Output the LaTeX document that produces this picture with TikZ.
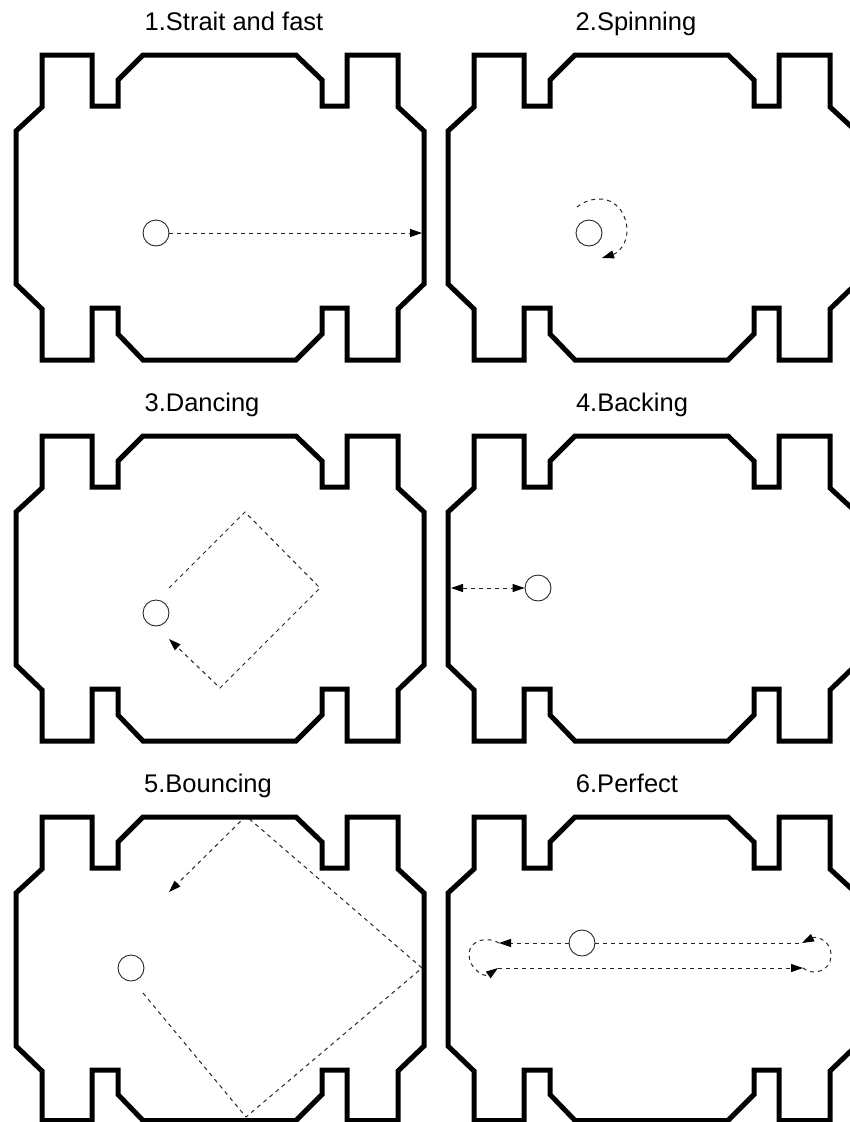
\documentclass[tikz,border=0pt]{standalone}
\usepackage{fontspec}
\setmainfont{Liberation Sans}
\usetikzlibrary{arrows.meta}
\tikzset{
  x=1pt,y=-1pt,
  wall/.style={line width=5pt,miter limit=10,line join=miter},
  ball/.style={circle,draw=black!85,line width=0.9pt,minimum size=26pt,inner sep=0pt,fill=none},
  track/.style={line width=1pt,black!85,dash pattern=on 4pt off 4pt},
  tip/.style={-{Triangle[length=12pt,width=8pt,black]}},
  title/.style={font=\fontsize{25.5pt}{28pt}\selectfont,anchor=base,inner sep=0pt},
  arena/.pic={
    \draw[wall] (16,131) -- (42,107) -- (42,55) -- (92,55) -- (92,106) -- (118,106) -- (118,80) -- (143,55)
      -- (296,55) -- (322,80) -- (322,106) -- (347,106) -- (347,55) -- (398,55) -- (398,107) -- (424,131)
      -- (424,284) -- (398,309) -- (398,\bot) -- (347,\bot) -- (347,308) -- (322,308) -- (322,\low) -- (296,\bot)
      -- (143,\bot) -- (118,\low) -- (118,308) -- (92,308) -- (92,\bot) -- (42,\bot) -- (42,309) -- (16,284) -- cycle;
  }
}
\begin{document}
\begin{tikzpicture}
\useasboundingbox (0,0) rectangle (850,1122);
\clip (0,0) rectangle (850,1122);
% titles
\node[title] (t1) at (234,30) {1.Strait and fast};
\node[title] (t2) at (636,30) {2.Spinning};
\node[title] (t3) at (202,411) {3.Dancing};
\node[title] (t4) at (632,411) {4.Backing};
\node[title] (t5) at (208,792) {5.Bouncing};
\node[title] (t6) at (627,792) {6.Perfect};
% balls
\node[ball] (b1) at (156,233) {};
\node[ball] (b2) at (589,233) {};
\node[ball] (b3) at (156,613) {};
\node[ball] (b4) at (538,588) {};
\node[ball] (b5) at (131,968) {};
\node[ball] (b6) at (582,943) {};
% panel 1
\coordinate (p1end) at (422,233);
\draw[track,tip] (b1.east) -- (p1end);
% panel 2
\coordinate (p2s) at (577,207);
\coordinate (p2t) at (600,199);
\coordinate (p2r) at (627,231);
\coordinate (p2e) at (602,258);
\draw[track,tip] (p2s) .. controls (585,201) and (592,199) .. (p2t) .. controls (616,199) and (627,214) .. (p2r) .. controls (627,244) and (618,253) .. (p2e);
% panel 3
\coordinate (p3a) at (169,588);
\coordinate (p3b) at (245,512);
\coordinate (p3c) at (320,588);
\coordinate (p3d) at (220,688);
\coordinate (p3e) at (169,639);
\draw[track,tip] (p3a) -- (p3b) -- (p3c) -- (p3d) -- (p3e);
% panel 4
\coordinate (p4w) at (451,588);
\draw[track,{Triangle[length=12pt,width=8pt,black]}-{Triangle[length=12pt,width=8pt,black]}] (p4w) -- (b4.west);
% panel 5
\coordinate (p5a) at (143,993);
\coordinate (p5b) at (246,1117);
\coordinate (p5c) at (422,968);
\coordinate (p5d) at (246,816);
\coordinate (p5e) at (169,892);
\draw[track,tip] (p5a) -- (p5b) -- (p5c) -- (p5d) -- (p5e);
% panel 6
\coordinate (p6tl) at (499,943);
\coordinate (p6tr) at (802,943);
\coordinate (p6bl) at (498,968);
\coordinate (p6br) at (803,968);
\coordinate (p6l) at (469,955);
\coordinate (p6r) at (831,955);
\draw[track,tip] (b6.west) -- (p6tl);
\draw[track] (b6.east) -- (p6tr);
\draw[track,tip] (p6bl) -- (p6br);
\draw[track,tip] (p6tl) .. controls (490,937) and (469,938) .. (p6l) .. controls (469,968) and (484,978) .. (p6bl);
\draw[track,tip] (p6br) .. controls (812,976) and (831,972) .. (p6r) .. controls (831,940) and (816,936) .. (p6tr);
% arenas
\foreach \dx/\dy/\bot/\low in {0/0/360/334,432/0/360/334,0/381/360/334,432/381/360/334,0/762/358.5/332.5,432/762/358.5/332.5}
  \pic at (\dx,\dy) {arena};
\end{tikzpicture}
\end{document}
